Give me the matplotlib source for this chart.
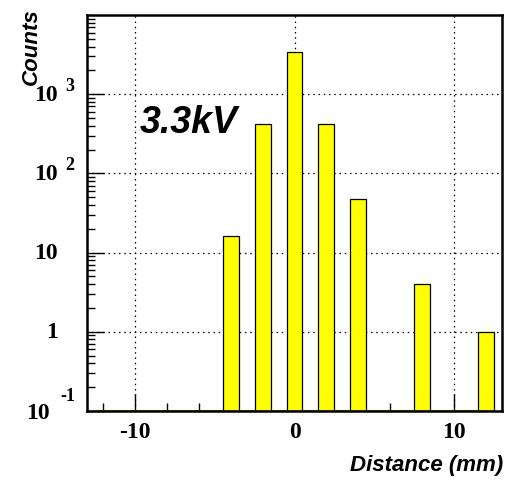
import numpy as np
import matplotlib
matplotlib.use("Agg")
import matplotlib.pyplot as plt
from matplotlib.ticker import FixedLocator, NullFormatter

# histogram bins (mm) and counts
bin_centers = [-12, -10, -8, -6, -4, -2, 0, 2, 4, 6, 8, 10, 12]
counts = [0, 0, 0, 0, 16, 425, 3420, 418, 48, 0, 4, 0, 1]
bar_width = 1.0
ymin, ymax = 0.1, 1.0e4
xmin, xmax = -13, 13

ytick_vals = [0.1, 1, 10, 100, 1000]
ytick_main = ["10", "1", "10", "10", "10"]
ytick_exp = ["-1", "", "", "2", "3"]
xtick_vals = [-10, 0, 10]
xtick_labels = ["-10", "0", "10"]

sans = "Liberation Sans"
serif = "Liberation Serif"

fig = plt.figure(figsize=(5.08, 4.8), dpi=100)
ax = fig.add_axes([87/508, 1-411/480, 415/508, 396/480])
ax.set_yscale("log")
ax.set_xlim(xmin, xmax)
ax.set_ylim(ymin, ymax)

# empty bins show up as a flat olive line at the bottom
ax.hlines(ymin, bin_centers[0] - bar_width/2, bin_centers[-1] + bar_width/2,
          color="#9a9a00", lw=1.5, zorder=4, clip_on=False)

x = np.array(bin_centers)
c = np.array(counts, dtype=float)
m = c > 0
ax.bar(x[m], c[m] - ymin, bottom=ymin, width=bar_width, color="#ffff00",
       edgecolor="black", linewidth=0.9, zorder=3)

# grid
for v in xtick_vals:
    ax.axvline(v, color="black", lw=0.9, ls=(0, (1.2, 3)), zorder=1)
for v in ytick_vals[1:]:
    ax.axhline(v, color="black", lw=0.9, ls=(0, (1.2, 3)), zorder=1)

for s in ax.spines.values():
    s.set_linewidth(1.8)
    s.set_zorder(5)

ax.tick_params(which="both", direction="in", top=False, right=False,
               labelleft=False, labelbottom=False, color="black")
ax.tick_params(which="major", length=12, width=1)
ax.tick_params(which="minor", length=6, width=1)
ax.xaxis.set_major_locator(FixedLocator(xtick_vals))
ax.xaxis.set_minor_locator(FixedLocator([-12, -8, -6, -4, -2, 2, 4, 6, 8, 12]))
ax.yaxis.set_major_locator(FixedLocator(ytick_vals))
minor_y = [k * 10.0**e for e in range(-1, 4) for k in range(2, 10)]
ax.yaxis.set_minor_locator(FixedLocator(minor_y))
ax.yaxis.set_minor_formatter(NullFormatter())

# x tick labels
for v, lab in zip(xtick_vals, xtick_labels):
    ax.annotate(lab, xy=(v, 0), xycoords=ax.get_xaxis_transform(),
                xytext=(0, -22), textcoords="offset pixels",
                ha="center", va="center", fontsize=17, fontweight="bold",
                family=serif)

# y tick labels, ROOT style "10" with raised exponent
ytr = ax.get_yaxis_transform()
for v, base, ex in zip(ytick_vals, ytick_main, ytick_exp):
    if ex == "":
        ax.annotate(base, xy=(0, v), xycoords=ytr, xytext=(-29, -1),
                    textcoords="offset pixels", ha="right", va="center",
                    fontsize=17, fontweight="bold", family=serif)
    elif ex == "-1":
        ax.annotate(base, xy=(0, v), xycoords=ytr, xytext=(-37, -3),
                    textcoords="offset pixels", ha="right", va="center",
                    fontsize=17, fontweight="bold", family=serif)
        ax.annotate(ex, xy=(0, v), xycoords=ytr, xytext=(-27, 14),
                    textcoords="offset pixels", ha="left", va="center",
                    fontsize=13, fontweight="bold", family=serif)
    else:
        ax.annotate(base, xy=(0, v), xycoords=ytr, xytext=(-29, -1),
                    textcoords="offset pixels", ha="right", va="center",
                    fontsize=17, fontweight="bold", family=serif)
        ax.annotate(ex, xy=(0, v), xycoords=ytr, xytext=(-22, 8),
                    textcoords="offset pixels", ha="left", va="center",
                    fontsize=13, fontweight="bold", family=serif)

fig.text(31/508, 1-8/480, "Counts", rotation=90, ha="center", va="top",
         fontsize=16, fontweight="bold", style="italic", family=sans)
fig.text(503/508, 1-466/480, "Distance (mm)", ha="right", va="center",
         fontsize=16, fontweight="bold", style="italic", family=sans)
fig.text(140/508, 1-133/480, "3.3kV", ha="left", va="baseline",
         fontsize=27, fontweight="bold", style="italic", family=sans)

fig.savefig("out.png", dpi=100)
